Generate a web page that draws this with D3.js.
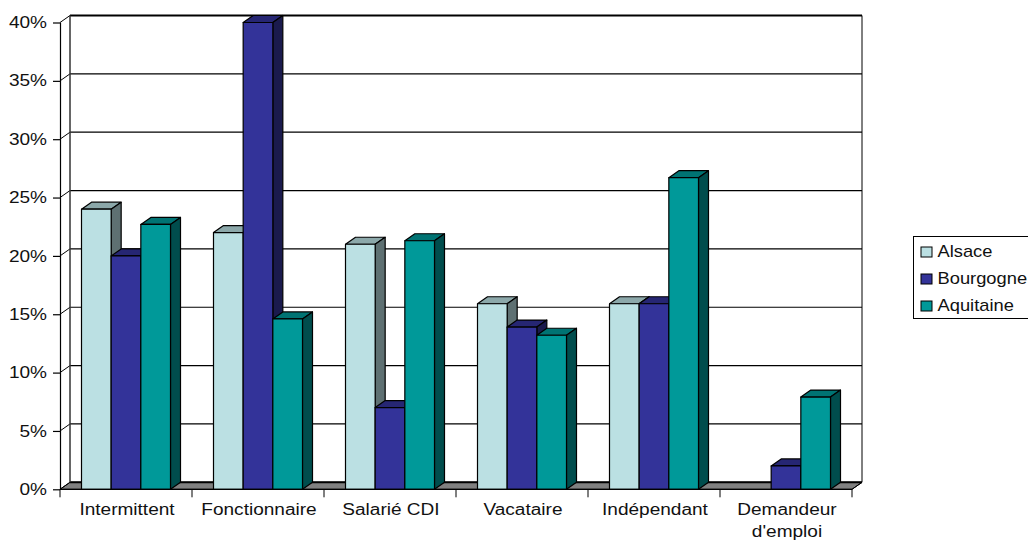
<!DOCTYPE html>
<html><head><meta charset="utf-8">
<script src="https://cdn.jsdelivr.net/npm/d3@7"></script>
<style>html,body{margin:0;background:#fff;overflow:hidden}svg{display:block}text{font-family:"Liberation Sans",Arial,sans-serif;fill:#111}</style>
</head><body><svg id="c" width="1028" height="540"></svg>
<script>
const categories=[["Intermittent"],["Fonctionnaire"],["Salarié CDI"],["Vacataire"],["Indépendant"],["Demandeur","d'emploi"]];
const seriesNames=["Alsace","Bourgogne","Aquitaine"];
const alsace=[0.24,0.22,0.21,0.159,0.159,0];
const bourgogne=[0.20,0.40,0.07,0.139,0.159,0.02];
const aquitaine=[0.227,0.146,0.213,0.132,0.267,0.079];
const tickValues=[0,0.05,0.10,0.15,0.20,0.25,0.30,0.35,0.40];
const frontColors=["#BBE0E3","#333399","#009999"];
const topColors=["#8CA8AA","#262673","#007373"];
const sideColors=["#5E7072","#1A1A4D","#004D4D"];
const series=[alsace,bourgogne,aquitaine];

const svg=d3.select("#c");
const dx=10,dy=-7,sx=1.19,legendSx=1.145,fs=16;
const y=d3.scaleLinear().domain([0,0.4]).range([489.3,22.5]);
const x=d3.scaleBand().domain(categories.map((d,i)=>i)).range([60,852]).paddingInner(0).paddingOuter(0);
const groupW=89;
const inner=d3.scaleBand().domain([0,1,2]).range([(x.bandwidth()-groupW)/2,(x.bandwidth()+groupW)/2]);
const poly=p=>"M"+p.map(q=>q.join(",")).join("L")+"Z";
const x0=60,x1=852,y0=y(0),yT=y(0.4);

// floor
svg.append("path").attr("d",poly([[x0,y0],[x1,y0],[x1+dx,y0+dy],[x0+dx,y0+dy]]))
  .attr("fill","#808080").attr("stroke","#000").attr("stroke-width",1);
svg.append("line").attr("x1",x0+dx).attr("x2",x1+dx).attr("y1",y0+dy).attr("y2",y0+dy).attr("stroke","#000").attr("stroke-width",2);

// gridlines on back wall and side wall
const grid=svg.append("g");
tickValues.slice(1).forEach(t=>{
  const yy=y(t);
  grid.append("line").attr("x1",x0+dx).attr("x2",x1+dx).attr("y1",yy+dy).attr("y2",yy+dy)
    .attr("stroke","#000").attr("stroke-width",t===0.4?2:1.2);
});
tickValues.forEach(t=>{
  const yy=y(t);
  grid.append("line").attr("x1",x0).attr("x2",x0+dx).attr("y1",yy).attr("y2",yy+dy).attr("stroke","#000").attr("stroke-width",1);
});
grid.append("line").attr("x1",x0+dx).attr("x2",x0+dx).attr("y1",yT+dy).attr("y2",y0+dy).attr("stroke","#333").attr("stroke-width",1.5);
grid.append("line").attr("x1",x1+dx).attr("x2",x1+dx).attr("y1",yT+dy).attr("y2",y0+dy).attr("stroke","#000").attr("stroke-width",1);
grid.append("line").attr("x1",x1).attr("x2",x1+dx).attr("y1",y0).attr("y2",y0+dy).attr("stroke","#000").attr("stroke-width",1);

// bars
const bars=svg.append("g").attr("stroke","#000").attr("stroke-width",1.2).attr("stroke-linejoin","round");
categories.forEach((c,i)=>{
  series.forEach((s,k)=>{
    const v=s[i]; if(!v) return;
    const l=x(i)+inner(k), r=l+inner.bandwidth(), t=y(v), b=y0;
    bars.append("path").attr("d",poly([[l,t],[r,t],[r+dx,t+dy],[l+dx,t+dy]])).attr("fill",topColors[k]);
    bars.append("path").attr("d",poly([[r,t],[r+dx,t+dy],[r+dx,b+dy],[r,b]])).attr("fill",sideColors[k]);
    bars.append("path").attr("d",poly([[l,t],[r,t],[r,b],[l,b]])).attr("fill",frontColors[k]);
  });
});

// axes
const yAxis=d3.axisLeft(y).tickValues(tickValues).tickFormat(d3.format(".0%")).tickSize(7).tickPadding(6);
const gy=svg.append("g").attr("transform",`translate(${x0},0)`).call(yAxis);
gy.select(".domain").attr("stroke","#000").attr("stroke-width",1.2).attr("d",`M0.5,${yT}V${y0}`);
gy.selectAll(".tick line").attr("stroke","#000").attr("stroke-width",1.2);
gy.selectAll("text").attr("font-size",fs).attr("font-family",'"Liberation Sans"').attr("fill","#111")
  .attr("x",-13/sx).attr("transform",`scale(${sx},1)`);

const gx=svg.append("g").attr("transform",`translate(0,${y0})`);
gx.append("line").attr("x1",x0).attr("x2",x1).attr("stroke","#000").attr("stroke-width",1.2);
d3.range(categories.length+1).forEach(i=>{
  const xx=i<categories.length?x(i):x1;
  gx.append("line").attr("x1",xx).attr("x2",xx).attr("y1",0).attr("y2",8).attr("stroke","#000").attr("stroke-width",1);
});
categories.forEach((c,i)=>{
  c.forEach((line,j)=>{
    gx.append("text").attr("x",(x(i)+x.bandwidth()/2+1)/sx).attr("y",26+j*22).attr("text-anchor","middle")
      .attr("transform",`scale(${sx},1)`).attr("font-size",fs).text(line);
  });
});

// legend
const lg=svg.append("g");
lg.append("rect").attr("x",913.5).attr("y",236.5).attr("width",130).attr("height",82).attr("fill","#fff").attr("stroke","#000");
seriesNames.forEach((n,k)=>{
  const yy=252+k*27;
  lg.append("rect").attr("x",921).attr("y",yy-5).attr("width",11).attr("height",10).attr("fill",frontColors[k]).attr("stroke","#000");
  lg.append("text").attr("x",937.5/legendSx).attr("y",yy+5).attr("transform",`scale(${legendSx},1)`).attr("font-size",fs).text(n);
});
</script></body></html>
